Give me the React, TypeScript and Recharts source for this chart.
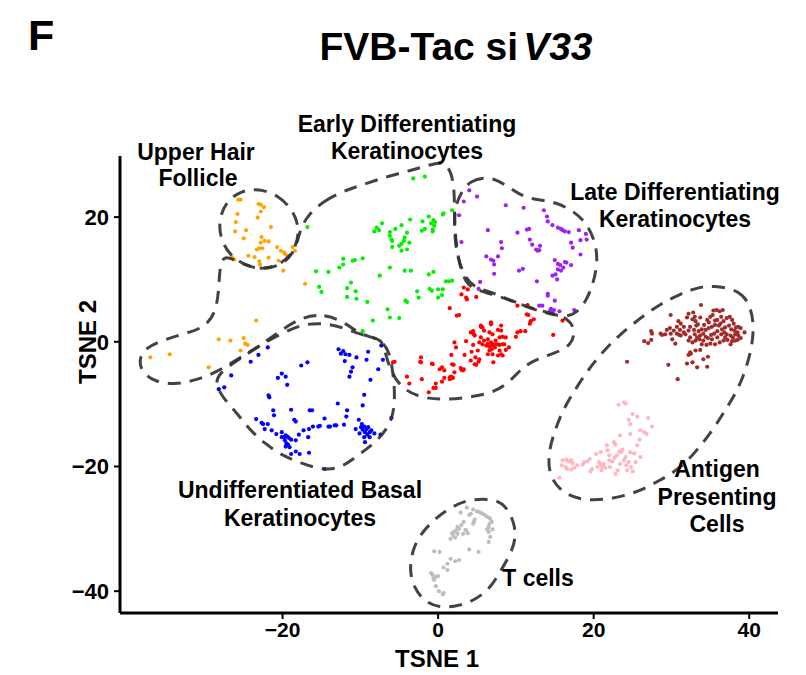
import React from 'react';
import { ScatterChart, Scatter, XAxis, YAxis } from 'recharts';

type Pt = [number, number];

// ---- cell embeddings (TSNE 1, TSNE 2) per cluster ----
const upperHairFollicle: Pt[] = [
  [-25.7, 22.8], [-25.4, 22.8], [-23.1, 22.1], [-22.8, 22.0], [-22.4, 21.6], [-25.8, 20.5], [-22.8, 20.9],
  [-23.2, 19.9], [-26.0, 19.2], [-24.7, 17.9], [-26.1, 17.7], [-21.5, 18.4], [-25.0, 16.6], [-22.7, 16.8],
  [-22.3, 16.2], [-22.8, 15.9], [-21.8, 16.1], [-23.0, 15.0], [-23.3, 14.8], [-22.6, 15.0], [-20.7, 15.2],
  [-20.2, 14.6], [-19.8, 14.3], [-19.6, 14.0], [-18.4, 14.6], [-18.7, 15.2], [-26.5, 13.5], [-26.2, 13.2],
  [-24.4, 13.8], [-23.6, 13.6], [-23.0, 12.9], [-22.9, 12.4], [-21.8, 13.5], [-20.5, 13.0], [-19.9, 11.4],
  [-17.1, 9.3], [-23.4, 3.4], [-28.2, 0.4], [-26.7, 0.2], [-25.0, 0.6], [-24.8, -0.3], [-24.5, -0.5],
  [-25.4, -1.4], [-37.0, -2.5], [-34.5, -2.0], [-29.5, -4.1],
];

const earlyDiff: Pt[] = [
  [-3.2, 26.2], [-1.7, 26.5], [-16.8, 18.4], [-7.2, 19.0], [-7.9, 18.3], [-7.6, 17.9], [-8.2, 17.7],
  [-6.2, 17.6], [-5.5, 18.1], [-4.7, 18.7], [-3.6, 19.6], [-6.2, 17.0], [-6.0, 16.4], [-5.9, 16.2],
  [-4.3, 16.7], [-4.0, 17.5], [-4.4, 16.2], [-4.7, 15.7], [-3.7, 15.9], [-5.9, 15.2], [-5.0, 15.4],
  [-4.7, 14.6], [-4.0, 14.8], [-2.0, 19.3], [-1.2, 20.1], [-0.6, 19.5], [-0.4, 19.2], [-0.9, 19.0],
  [-0.5, 18.6], [-0.7, 18.0], [-0.7, 17.7], [-2.1, 17.8], [-1.7, 18.1], [0.6, 20.4], [0.7, 20.6],
  [1.8, 21.1], [-12.2, 13.3], [-11.0, 13.0], [-10.7, 13.1], [-9.7, 13.4], [-12.2, 12.4], [-12.7, 11.9],
  [-15.7, 11.3], [-14.1, 11.2], [-6.2, 11.9], [-7.5, 10.6], [-4.3, 11.4], [-3.5, 11.4], [-1.2, 10.8],
  [-0.6, 11.2], [-11.2, 9.5], [-15.3, 8.8], [-15.0, 8.0], [-11.7, 8.6], [-10.6, 8.1], [-11.7, 7.2],
  [-10.5, 6.9], [-9.1, 6.4], [-6.5, 5.2], [-4.2, 6.6], [-4.0, 6.4], [-2.7, 8.1], [-2.5, 7.1],
  [-1.1, 8.5], [-0.8, 8.2], [0.0, 7.1], [0.5, 7.5], [0.6, 8.4], [1.0, 9.7], [1.4, 9.7], [1.8, 9.8],
  [0.0, 8.4], [-6.2, 3.9], [-5.0, 3.8], [-8.4, 3.4], [-9.7, 1.7],
];

const lateDiff: Pt[] = [
  [4.0, 24.3], [5.0, 23.3], [3.3, 22.5], [2.7, 20.3], [3.0, 16.0], [8.7, 21.9], [11.0, 21.5],
  [13.6, 21.1], [14.0, 20.1], [14.1, 19.3], [6.4, 17.9], [10.2, 17.5], [11.4, 18.0], [11.7, 18.1],
  [14.7, 18.7], [15.4, 18.3], [15.8, 18.1], [16.0, 17.9], [16.3, 17.7], [16.8, 17.6], [18.1, 17.9],
  [19.0, 17.3], [18.3, 16.3], [17.1, 15.9], [17.3, 15.1], [8.1, 16.0], [8.2, 15.0], [11.8, 16.4],
  [12.1, 15.6], [12.6, 14.8], [12.8, 14.6], [13.0, 14.7], [13.1, 15.4], [6.2, 13.7], [6.8, 13.2],
  [7.1, 13.0], [7.2, 12.4], [7.7, 13.7], [10.9, 11.7], [10.4, 11.4], [15.0, 13.1], [15.4, 12.5],
  [15.7, 12.3], [16.3, 12.8], [16.5, 12.7], [16.1, 11.9], [15.8, 11.4], [15.4, 11.6], [15.1, 10.8],
  [14.7, 10.6], [15.3, 10.0], [17.1, 12.3], [18.3, 14.0], [12.7, 9.7], [5.4, 9.6], [5.2, 8.5],
  [14.1, 7.7], [14.1, 7.4], [15.0, 6.6], [13.0, 5.8], [13.4, 5.8], [14.5, 5.3], [14.4, 5.0],
  [14.7, 4.7], [14.9, 5.1], [15.6, 4.9], [17.5, 5.1], [7.2, 10.9], [19.1, 16.4],
];

const basal: Pt[] = [
  [-23.1, -2.1], [-24.1, -3.2], [-26.6, -5.4], [-28.2, -7.6], [-27.5, -7.3], [-21.9, -0.9], [-17.6, -3.8],
  [-16.8, -3.3], [-20.1, -5.1], [-20.6, -5.8], [-19.6, -5.6], [-19.4, -6.9], [-21.8, -8.6], [-21.7, -8.9],
  [-12.8, -1.2], [-12.5, -1.9], [-12.2, -1.5], [-11.9, -2.0], [-11.4, -2.1], [-10.5, -2.5], [-12.0, -3.1],
  [-9.0, -1.6], [-9.2, -2.9], [-11.0, -4.1], [-11.2, -4.8], [-11.4, -5.6], [-7.1, -2.9], [-7.7, -4.4],
  [-7.3, -0.6], [-8.7, -6.1], [-9.5, -8.5], [-9.7, -10.2], [-12.9, -9.9], [-11.7, -11.0], [-11.8, -12.0],
  [-6.0, -12.2], [-21.2, -11.0], [-21.1, -11.8], [-18.9, -10.9], [-18.5, -12.5], [-18.3, -12.8],
  [-16.5, -11.0], [-16.2, -11.0], [-14.6, -12.3], [-13.3, -13.4], [-13.1, -13.4], [-13.9, -13.6],
  [-14.1, -13.6], [-12.1, -13.3], [-15.4, -13.6], [-15.2, -13.5], [-16.1, -13.6], [-16.6, -14.0],
  [-17.3, -14.2], [-17.9, -14.9], [-16.7, -15.3], [-18.3, -15.8], [-18.9, -18.0], [-18.3, -17.6],
  [-17.8, -18.0], [-16.6, -17.8], [-23.4, -12.4], [-22.7, -13.0], [-22.5, -13.2], [-21.9, -13.2],
  [-22.3, -14.0], [-21.4, -14.2], [-20.8, -14.8], [-20.1, -14.5], [-20.1, -15.3], [-19.8, -15.3],
  [-19.6, -15.0], [-19.4, -15.2], [-19.2, -15.4], [-19.7, -15.8], [-19.5, -16.3], [-19.3, -16.5],
  [-19.1, -16.9], [-19.6, -16.8], [-18.9, -15.7], [-10.6, -14.0], [-10.2, -12.5], [-9.9, -13.7],
  [-9.7, -14.1], [-9.5, -13.6], [-9.2, -14.0], [-9.0, -13.7], [-9.4, -14.5], [-9.1, -14.9], [-8.8, -15.3],
  [-9.5, -15.3], [-10.1, -14.7], [-8.8, -14.5], [-8.2, -14.7], [-7.4, -14.9], [-9.4, -16.1], [-8.6, -14.2],
  [-9.8, -13.2], [-14.6, -20.4],
];

const spinous: Pt[] = [
  [1.5, 5.4], [2.4, 4.2], [2.7, 4.3], [-2.2, -2.5], [-2.2, -3.3], [-0.7, -3.6], [0.2, -4.4], [0.5, -4.1],
  [0.8, -4.6], [1.5, -5.7], [1.9, -5.8], [2.1, -4.9], [2.0, -3.7], [1.7, -2.1], [2.3, -0.9], [2.1, -0.1],
  [3.4, -2.1], [3.6, 0.1], [4.5, -0.5], [4.3, -1.6], [5.1, -1.4], [4.8, -2.5], [5.2, -3.2], [4.7, -3.6],
  [4.9, -3.7], [5.5, 0.7], [5.9, 0.2], [5.3, -0.1], [5.7, -0.4], [6.4, 0.4], [6.6, 1.5], [7.0, 1.2],
  [6.8, 3.1], [5.5, 2.4], [5.7, 2.3], [5.9, 1.8], [4.5, 1.7], [4.6, 1.2], [4.7, 1.0], [4.2, 1.5],
  [6.2, -0.6], [6.4, -0.3], [6.6, -0.8], [6.8, -0.1], [7.0, -0.5], [7.2, -0.4], [7.3, -0.9], [7.6, -0.4],
  [7.9, 0.7], [8.1, 1.8], [8.1, 2.6], [8.3, 0.8], [7.7, 1.9], [8.7, 0.7], [8.5, -0.4], [6.9, -1.2],
  [6.6, -1.4], [6.4, -2.0], [7.0, -2.0], [7.9, -1.4], [8.1, -2.0], [8.3, -2.2], [9.1, -0.9], [8.7, -1.3],
  [7.7, -2.2], [7.1, -3.3], [5.3, -2.8], [4.2, -3.0], [3.0, -4.5], [3.3, -4.4], [10.2, 1.5], [10.0, 0.8],
  [10.6, 1.7], [11.2, 1.7], [11.9, 3.3], [11.8, 2.9], [11.4, 4.4], [11.5, 5.9], [6.9, -0.6], [7.4, 0.2],
  [7.9, -0.5], [8.3, -0.4], [3.0, 7.6], [3.6, 7.1], [4.9, 7.2], [10.2, 5.8], [12.3, 3.6], [16.0, 3.4],
  [14.8, 1.1], [-5.6, -3.2], [-5.8, -3.3], [-2.3, -3.2], [-0.8, -3.5], [-4.0, -5.6], [-3.7, -6.7],
  [-2.1, -6.0], [-1.2, -8.1], [-0.6, -7.4], [-0.3, -7.4], [-0.3, -6.7], [0.5, -6.4], [0.8, -5.8],
  [1.5, -6.0], [1.7, -5.6], [1.8, -3.6], [2.9, -4.2], [3.2, -4.6], [3.3, 8.7], [3.8, 8.4], [3.7, 6.8],
  [5.5, 2.6], [6.8, 2.8], [11.6, 4.3],
];

const apcMyeloid: Pt[] = [
  [33.8, 5.9], [29.9, 4.3], [32.2, 4.5], [32.8, 4.7], [33.0, 4.0], [32.7, 3.6], [32.0, 3.9], [33.7, 3.9],
  [33.4, 2.8], [30.9, 3.3], [31.2, 2.9], [30.7, 2.4], [31.6, 2.4], [31.1, 1.9], [29.8, 2.2], [29.4, 1.9],
  [29.2, 1.2], [28.8, 1.1], [28.6, 1.3], [27.4, 1.7], [27.5, 1.3], [27.4, 0.3], [26.5, 0.1], [27.0, -0.2],
  [29.9, 1.3], [30.1, 0.4], [30.5, -0.3], [30.7, 1.3], [31.2, 1.0], [31.6, 1.5], [31.8, 1.2], [32.2, 1.8],
  [32.4, 2.4], [32.9, 1.9], [33.2, 2.6], [33.5, 1.7], [33.9, 2.0], [34.2, 2.7], [34.6, 3.5], [35.0, 4.0],
  [35.4, 5.0], [35.8, 5.1], [35.3, 4.3], [36.2, 4.9], [36.6, 5.1], [36.4, 4.0], [35.9, 3.5], [36.7, 3.3],
  [37.1, 3.8], [37.5, 4.0], [37.8, 3.5], [38.0, 2.9], [38.3, 2.3], [38.6, 2.4], [38.9, 2.2], [39.4, 1.5],
  [38.5, 1.5], [38.1, 1.8], [37.7, 2.0], [37.4, 2.6], [36.9, 2.3], [36.5, 2.0], [36.1, 2.6], [35.6, 2.7],
  [35.2, 2.4], [34.8, 2.2], [34.4, 1.9], [34.1, 1.3], [33.7, 1.0], [33.3, 0.7], [33.0, 1.2], [32.4, 0.7],
  [32.2, 0.2], [32.7, -0.1], [33.1, 0.2], [33.6, 0.4], [34.1, 0.2], [34.7, 0.6], [35.1, 1.1], [35.5, 1.3],
  [35.9, 1.7], [36.4, 1.2], [36.8, 1.5], [37.1, 1.2], [37.6, 1.0], [37.9, 0.7], [38.2, 0.2], [38.5, 0.3],
  [37.8, 0.1], [37.2, 0.3], [36.7, 0.2], [36.2, -0.1], [35.6, -0.4], [35.0, -0.3], [34.5, -0.5],
  [33.9, -0.4], [33.7, -1.3], [33.1, -1.4], [32.4, -1.7], [32.2, -2.1], [32.5, -1.9], [34.7, -2.4],
  [34.1, -2.8], [32.7, -3.3], [32.0, -3.5], [34.6, -4.0], [33.3, -4.1], [29.6, -3.7], [24.3, -3.2],
  [31.0, 1.1], [30.3, 1.8], [33.1, 3.3], [34.8, 3.1], [35.6, 3.4], [36.3, 2.9], [38.2, 1.2], [38.6, 1.0],
  [38.9, 0.6], [37.6, -0.4], [36.9, 0.7], [35.9, 0.7], [35.2, 0.4], [34.4, 0.8], [30.8, -6.0],
];

const apcLight: Pt[] = [
  [23.2, -10.1], [23.9, -9.7], [24.1, -9.9], [25.0, -11.6], [25.6, -12.0], [24.5, -12.5], [24.7, -13.2],
  [27.0, -12.2], [27.5, -13.6], [26.0, -14.2], [26.5, -14.5], [26.8, -14.8], [25.9, -15.7], [25.6, -16.6],
  [23.4, -15.0], [24.7, -14.8], [22.6, -16.1], [22.8, -16.5], [21.7, -16.6], [21.8, -17.4], [22.0, -18.2],
  [20.9, -17.7], [20.3, -18.0], [19.5, -18.8], [19.2, -19.2], [20.7, -19.3], [20.9, -19.7], [21.3, -19.6],
  [21.1, -20.1], [21.5, -20.2], [21.0, -20.6], [19.8, -20.4], [19.6, -20.8], [18.8, -19.3], [18.6, -19.7],
  [17.9, -19.8], [17.3, -19.5], [16.8, -19.2], [16.5, -18.9], [16.0, -19.0], [15.9, -19.8], [16.4, -20.1],
  [16.6, -20.4], [17.1, -20.5], [17.5, -20.2], [17.1, -19.0], [22.0, -19.0], [22.4, -19.2], [22.7, -18.6],
  [23.0, -18.2], [23.5, -17.7], [23.7, -17.3], [23.3, -17.6], [23.9, -19.0], [23.4, -19.6], [23.1, -20.6],
  [24.2, -19.8], [24.5, -19.3], [24.8, -20.1], [24.3, -20.6], [25.0, -20.8], [25.4, -19.3], [25.2, -17.9],
  [24.7, -17.7], [26.0, -18.5], [24.1, -18.5], [20.5, -20.1], [22.1, -20.1], [15.6, -21.8], [22.8, -21.2],
];

const tCells: Pt[] = [
  [3.7, -26.6], [4.5, -26.9], [5.0, -27.2], [5.3, -27.3], [5.6, -27.5], [5.9, -27.7], [6.2, -28.0],
  [6.5, -28.2], [6.7, -28.4], [6.9, -28.9], [6.6, -29.2], [6.5, -29.7], [7.0, -30.1], [6.3, -30.1],
  [6.5, -30.5], [6.7, -31.3], [6.5, -32.1], [4.2, -27.6], [4.0, -27.8], [4.7, -28.5], [4.5, -29.2],
  [4.6, -28.9], [3.3, -28.9], [3.0, -29.4], [2.7, -30.0], [2.4, -30.2], [2.1, -30.4], [1.8, -30.7],
  [1.9, -31.0], [1.6, -31.6], [2.2, -31.4], [2.5, -30.8], [3.2, -30.8], [3.5, -30.2], [3.8, -30.7],
  [2.9, -27.4], [4.0, -33.3], [5.2, -33.7], [-0.5, -33.6], [0.2, -33.7], [1.6, -34.8], [2.2, -35.2],
  [2.7, -35.0], [1.2, -35.6], [0.7, -36.2], [1.2, -36.6], [-0.9, -37.1], [-0.7, -37.4], [-0.6, -38.0],
  [-0.3, -37.7], [0.0, -37.6], [-0.3, -39.2], [0.1, -40.0], [0.6, -40.5], [0.7, -40.3], [-0.5, -38.2],
  [3.6, -30.2], [2.5, -29.7],
];

// ---- dashed region outlines (closed loops) ----
const follicleOutline: Pt[] = [
  [-23.1, 24.6], [-20.5, 23.5], [-18.6, 21.0], [-17.8, 18.1], [-18.3, 15.0], [-19.9, 12.6], [-22.4, 11.5],
  [-24.9, 12.3], [-26.8, 13.9], [-28.0, 16.5], [-28.2, 19.7], [-27.2, 22.6], [-25.3, 24.2],
];

const earlyOutline: Pt[] = [
  [-16.8, 20.3], [-14.6, 22.7], [-12.1, 24.2], [-9.2, 25.4], [-6.3, 26.6], [-3.5, 27.5], [-1.2, 28.3],
  [0.6, 29.0], [1.7, 27.4], [2.1, 24.2], [2.1, 20.6], [2.2, 17.0], [2.6, 13.3], [3.2, 10.4], [4.2, 8.5],
  [6.8, 7.7], [9.4, 6.6], [11.9, 5.4], [14.5, 4.6], [16.7, 3.8], [17.7, 1.8], [17.1, -0.6], [15.1, -1.8],
  [12.8, -2.7], [10.9, -4.0], [9.4, -6.2], [7.4, -8.0], [4.6, -8.8], [1.3, -9.3], [-1.8, -9.1],
  [-4.4, -7.8], [-6.0, -5.1], [-6.8, -1.8], [-7.2, 0.5], [-9.2, 0.8], [-11.8, 2.1], [-14.4, 3.0],
  [-17.2, 2.9], [-19.7, 1.6], [-22.1, 0.0], [-24.0, -1.4], [-26.3, -3.2], [-28.7, -5.0], [-31.3, -6.2],
  [-33.9, -6.9], [-36.4, -6.4], [-38.0, -5.0], [-38.5, -3.0], [-37.8, -1.1], [-35.5, 0.2], [-32.7, 1.3],
  [-30.1, 2.2], [-28.6, 4.6], [-28.2, 8.2], [-28.1, 11.7], [-27.6, 14.1], [-25.5, 12.6], [-22.7, 11.4],
  [-19.7, 12.5], [-18.3, 14.9], [-17.8, 17.8],
];

const lateOutline: Pt[] = [
  [3.0, 24.2], [4.2, 25.8], [5.8, 26.4], [7.4, 26.1], [9.1, 24.8], [11.0, 23.2], [13.2, 22.7], [15.1, 22.4],
  [17.4, 21.0], [19.2, 18.9], [20.3, 15.7], [20.5, 12.6], [20.0, 9.6], [19.1, 6.6], [17.7, 4.5], [16.4, 4.0],
  [14.1, 4.5], [11.9, 5.4], [9.4, 6.6], [6.8, 8.0], [4.4, 8.8], [3.1, 11.2], [2.3, 14.6], [2.1, 18.1],
  [2.1, 21.4],
];

const basalOutline: Pt[] = [
  [-17.6, 4.0], [-14.6, 4.5], [-11.8, 3.0], [-9.9, 1.0], [-7.6, 0.6], [-6.3, -1.4], [-5.9, -4.2],
  [-5.6, -7.0], [-5.6, -11.0], [-6.4, -13.8], [-8.2, -16.3], [-10.3, -18.2], [-12.4, -20.2],
  [-14.7, -20.6], [-17.6, -19.5], [-20.1, -18.2], [-22.3, -16.3], [-24.4, -13.9], [-25.8, -11.5],
  [-27.6, -9.1], [-28.7, -6.7], [-28.1, -5.0], [-25.9, -3.0], [-23.3, -1.0], [-20.8, 1.3],
];

const apcOutline: Pt[] = [
  [35.4, 9.1], [38.9, 8.2], [40.1, 5.8], [40.6, 3.0], [40.4, -0.6], [39.6, -4.3], [38.5, -7.8],
  [36.9, -11.0], [35.3, -14.2], [33.3, -17.4], [31.2, -20.2], [28.6, -22.2], [25.4, -24.3], [21.5, -25.4],
  [18.1, -25.4], [15.5, -23.8], [14.2, -21.0], [14.2, -17.8], [14.9, -14.6], [16.0, -11.0], [17.7, -7.5],
  [19.4, -4.3], [21.3, -1.4], [23.5, 1.3], [26.0, 3.8], [28.6, 6.1], [31.2, 7.7], [33.1, 8.6],
];

const tCellOutline: Pt[] = [
  [5.7, -25.2], [7.7, -25.4], [8.9, -26.7], [9.8, -29.1], [10.0, -31.4], [9.4, -33.9], [8.1, -36.6],
  [6.8, -39.4], [4.9, -41.3], [2.7, -42.4], [0.1, -42.7], [-1.8, -41.6], [-3.1, -39.5], [-3.7, -36.6],
  [-3.3, -33.4], [-2.3, -30.9], [-0.6, -28.6], [1.4, -26.7], [3.6, -25.4],
];

const xTicks = [-20, 0, 20, 40];
const yTicks = [-40, -20, 0, 20];

const clusters = [
  { key: 'follicle', color: '#FFA500', pts: upperHairFollicle },
  { key: 'early', color: '#00F000', pts: earlyDiff },
  { key: 'late', color: '#A020F0', pts: lateDiff },
  { key: 'basal', color: '#0000FF', pts: basal },
  { key: 'spinous', color: '#FF0000', pts: spinous },
  { key: 'apcDark', color: '#A52A2A', pts: apcMyeloid },
  { key: 'apcLight', color: '#FFB6C1', pts: apcLight },
  { key: 'tcells', color: '#BEBEBE', pts: tCells },
];

const outlines = [
  { key: 'o-follicle', pts: follicleOutline },
  { key: 'o-early', pts: earlyOutline },
  { key: 'o-late', pts: lateOutline },
  { key: 'o-basal', pts: basalOutline },
  { key: 'o-apc', pts: apcOutline },
  { key: 'o-t', pts: tCellOutline },
];

const toXY = (pts: Pt[]) => pts.map(([x, y]) => ({ x, y }));

const FONT = '"Liberation Sans", Arial, Helvetica, sans-serif';

const fmt = (v: number) => (v < 0 ? `\u2212${Math.abs(v)}` : `${v}`);

const makeDot = (color: string) => (p: any) =>
  p.cx == null ? <g /> : <circle cx={p.cx} cy={p.cy} r={2.1} fill={color} />;

const hidden = () => <g />;

const labelStyle: React.CSSProperties = { fontFamily: FONT, fontWeight: 700 };

export default function App() {
  return (
    <div style={{ position: 'absolute', left: 0, top: 0, width: 806, height: 675, background: '#fff' }}>
      <ScatterChart width={806} height={675} margin={{ top: 156, right: 28, bottom: 32, left: 60 }}>
        <XAxis
          type="number"
          dataKey="x"
          domain={[-40.9, 43.7]}
          ticks={xTicks}
          allowDataOverflow
          height={30}
          tickFormatter={fmt}
          tickSize={6}
          tickMargin={3}
          axisLine={{ stroke: '#000', strokeWidth: 3 }}
          tickLine={{ stroke: '#000', strokeWidth: 2 }}
          tick={{ fill: '#000', fontSize: 21, fontWeight: 700, fontFamily: FONT }}
        />
        <YAxis
          type="number"
          dataKey="y"
          domain={[-43.5, 29.8]}
          ticks={yTicks}
          allowDataOverflow
          width={60}
          tickFormatter={fmt}
          tickSize={6}
          tickMargin={5}
          axisLine={{ stroke: '#000', strokeWidth: 3 }}
          tickLine={{ stroke: '#000', strokeWidth: 2 }}
          tick={{ fill: '#000', fontSize: 22, fontWeight: 700, fontFamily: FONT }}
        />
        {clusters.map((c) => (
          <Scatter
            key={c.key}
            data={toXY(c.pts)}
            fill={c.color}
            shape={makeDot(c.color)}
            isAnimationActive={false}
          />
        ))}
        {outlines.map((o) => (
          <Scatter
            key={o.key}
            data={toXY(o.pts)}
            shape={hidden}
            line={{ stroke: '#333333', strokeOpacity: 0.92, strokeWidth: 3, strokeDasharray: '13 9', fill: 'none' }}
            lineType="joint"
            lineJointType="basisClosed"
            isAnimationActive={false}
          />
        ))}
      </ScatterChart>
      <svg
        width={806}
        height={675}
        style={{ position: 'absolute', left: 0, top: 0, pointerEvents: 'none' }}
      >
        <text x={28} y={50} fontSize={43} style={labelStyle} fill="#000">F</text>
        <text x={456} y={60} fontSize={39} textAnchor="middle" style={labelStyle} fill="#000">
          FVB-Tac si<tspan dx={5} fontStyle="italic">V33</tspan>
        </text>
        <text x={437} y={667} fontSize={24} textAnchor="middle" style={labelStyle} fill="#000">TSNE 1</text>
        <text
          x={0}
          y={0}
          fontSize={24}
          textAnchor="middle"
          style={labelStyle}
          fill="#000"
          transform="translate(96 342) rotate(-90)"
        >
          TSNE 2
        </text>
        <g fontSize={23} textAnchor="middle" style={labelStyle} fill="#000">
          <text x={196} y={160}>Upper Hair</text>
          <text x={198} y={186}>Follicle</text>
          <text x={407} y={132}>Early Differentiating</text>
          <text x={407} y={159}>Keratinocytes</text>
          <text x={675} y={200}>Late Differentiating</text>
          <text x={675} y={227}>Keratinocytes</text>
          <text x={300} y={498}>Undifferentiated Basal</text>
          <text x={300} y={526}>Keratinocytes</text>
          <text x={717} y={477}>Antigen</text>
          <text x={717} y={505}>Presenting</text>
          <text x={717} y={532}>Cells</text>
          <text x={538} y={586}>T cells</text>
        </g>
      </svg>
    </div>
  );
}
